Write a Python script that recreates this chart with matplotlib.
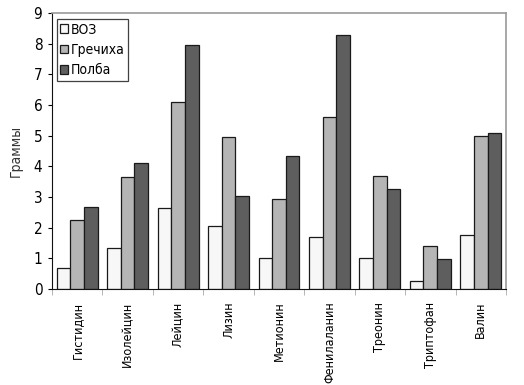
import matplotlib
matplotlib.use("Agg")
import matplotlib.pyplot as plt
import numpy as np

categories = ["Гистидин", "Изолейцин", "Лейцин", "Лизин", "Метионин",
              "Фенилаланин", "Треонин", "Триптофан", "Валин"]
voz = [0.68, 1.35, 2.65, 2.05, 1.0, 1.7, 1.0, 0.28, 1.77]
grechka = [2.27, 3.65, 6.1, 4.95, 2.95, 5.6, 3.7, 1.4, 4.98]
polba = [2.68, 4.1, 7.97, 3.03, 4.35, 8.3, 3.25, 0.98, 5.08]
series_names = ["ВОЗ", "Гречиха", "Полба"]
yticks = list(range(0, 10))

plt.rcParams['font.family'] = ["DejaVu Sans"]
plt.rcParams['font.stretch'] = 'condensed'

fig = plt.figure(figsize=(5.24, 3.85), dpi=100)
ax = fig.add_axes([0.0992, 0.249, 0.8664, 0.717])

x = np.arange(len(categories))
w = 0.27
colors = ["#f7f7f7", "#b5b5b5", "#5e5e5e"]
for i, (vals, c, n) in enumerate(zip([voz, grechka, polba], colors, series_names)):
    ax.bar(x + (i - 1) * w, vals, w, color=c, edgecolor="#1a1a1a", linewidth=0.9, label=n)

ax.set_xlim(-0.5, len(categories) - 0.5)
ax.set_ylim(0, 9)
ax.set_yticks(yticks)
ax.set_yticklabels([str(t) for t in yticks], fontsize=11)
ax.set_xticks(x)
ax.set_xticklabels(categories, rotation=90, fontsize=9)
ax.tick_params(axis='x', length=0, pad=9)
ax.set_xticks(np.arange(-0.5, len(categories), 1), minor=True)
ax.tick_params(axis='x', which='minor', length=4, color="#aaaaaa")
ax.tick_params(axis='y', length=3, pad=4)
ax.set_ylabel("Граммы", fontsize=10, color="#333333", labelpad=8)

for s in ["left", "bottom"]:
    ax.spines[s].set_color("#111111")
for s in ["top", "right"]:
    ax.spines[s].set_color("#999999")
    ax.spines[s].set_linewidth(1.2)

leg = ax.legend(loc="upper left", bbox_to_anchor=(0.01, 0.978), fontsize=10,
                frameon=True, fancybox=False, edgecolor="#111111",
                handlelength=0.6, handleheight=0.6, handletextpad=0.2,
                borderpad=0.25, labelspacing=0.45, borderaxespad=0)
leg.get_frame().set_linewidth(0.9)

fig.savefig("out.png", dpi=100)
